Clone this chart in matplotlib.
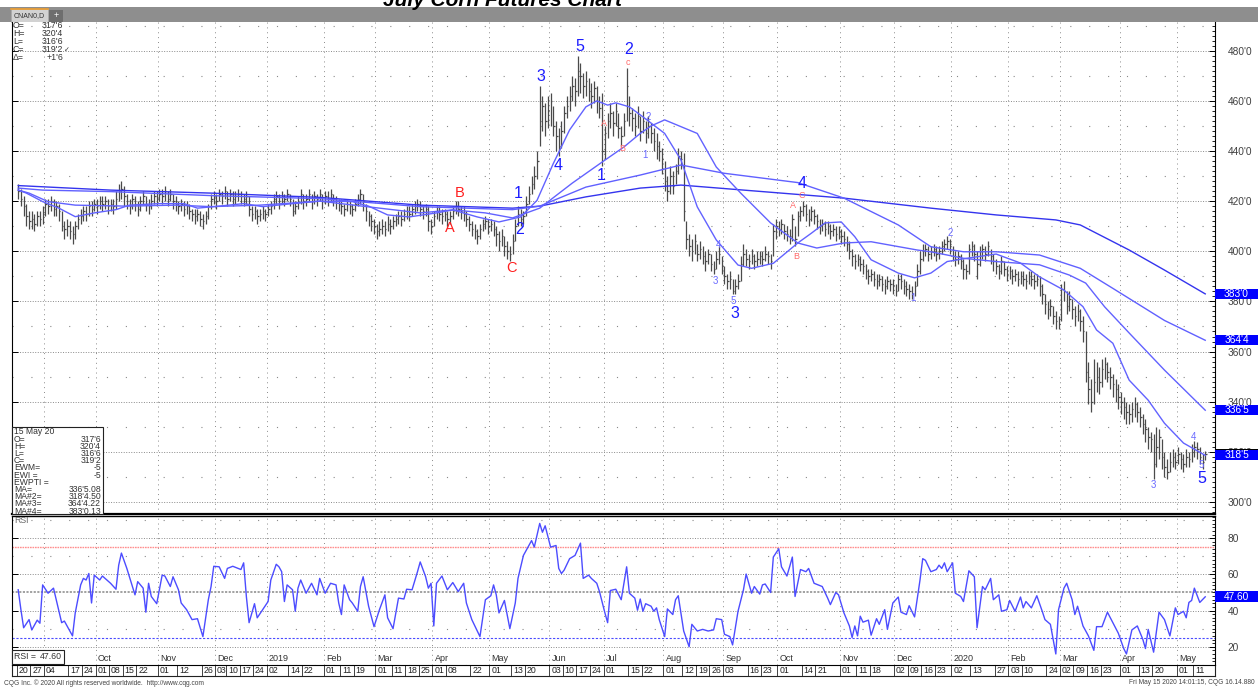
import numpy as np
import pandas as pd
import matplotlib
matplotlib.use("Agg")
import matplotlib.pyplot as plt
import matplotlib.transforms as mtransforms
from matplotlib.patches import Rectangle
from matplotlib.ticker import FixedLocator, MultipleLocator, FuncFormatter

plt.rcParams['font.family'] = ['Liberation Sans', 'DejaVu Sans']

# ---------------- data ----------------
holidays = ["2018-09-03", "2018-11-22", "2018-12-05", "2018-12-25", "2019-01-01", "2019-01-21",
            "2019-02-18", "2019-04-19", "2019-05-27", "2019-07-04", "2019-09-02", "2019-11-28",
            "2019-12-25", "2020-01-01", "2020-01-20", "2020-02-17", "2020-04-10"]
sessions = pd.bdate_range("2018-08-20", "2020-05-15", freq="C", holidays=holidays)

close = [
    424, 421, 418, 414, 412, 413, 411, 414, 413, 415,
    419, 418, 420, 417, 418, 416, 410, 409, 410, 408,
    407, 410, 413, 414, 416, 415, 418, 417, 419, 418,
    420, 419, 420, 418, 419, 418, 421, 424, 425, 422,
    420, 418, 421, 419, 417, 420, 422, 419, 418, 420,
    422, 421, 423, 422, 424, 421, 423, 420, 419, 418,
    419, 417, 418, 416, 415, 414, 415, 413, 412, 414,
    418, 421, 422, 420, 423, 422, 424, 421, 423, 421,
    422, 423, 422, 421, 422, 417, 415, 416, 414, 415,
    416, 415, 417, 418, 421, 422, 420, 422, 421, 423,
    421, 416, 418, 420, 423, 420, 421, 423, 420, 422,
    421, 423, 420, 422, 421, 423, 421, 420, 419, 418,
    417, 419, 418, 417, 419, 421, 423, 420, 416, 414,
    412, 410, 408, 409, 410, 409, 411, 410, 412, 413,
    414, 413, 415, 416, 415, 417, 418, 419, 417, 416,
    417, 412, 410, 414, 416, 415, 414, 415, 413, 414,
    416, 418, 417, 416, 415, 413, 411, 409, 408, 406,
    409, 411, 412, 410, 411, 409, 407, 404, 406, 402,
    400, 399, 404, 410, 415, 413, 414, 419, 423, 427,
    430, 436, 452, 458, 452, 456, 460, 450, 446, 442,
    448, 455, 458, 462, 466, 464, 472, 470, 466, 468,
    464, 462, 465, 460, 457, 440, 447, 452, 455, 451,
    456, 449, 446, 452, 466, 455, 453, 450, 454, 448,
    452, 447, 450, 447, 444, 442, 440, 437, 428, 424,
    430, 426, 432, 438, 437, 416, 405, 402, 400, 404,
    399, 401, 398, 396, 399, 395, 393, 397, 399, 394,
    390, 388, 389, 384, 386, 388, 395, 399, 397, 396,
    398, 396, 397, 398, 397, 399, 398, 396, 408, 410,
    409, 411, 408, 407, 406, 413, 405, 414, 416, 418,
    415, 413, 416, 414, 412, 410, 411, 409, 410, 408,
    409, 407, 408, 406, 405, 403, 400, 398, 396, 397,
    395, 394, 392, 390, 391, 389, 388, 389, 387, 386,
    388, 387, 386, 384, 389, 388, 386, 385, 384, 383,
    386, 392, 397, 400, 401, 399, 400, 401, 399, 400,
    402, 403, 404, 403, 398, 397, 398, 396, 393, 392,
    401, 402, 399, 395, 400, 401, 399, 402, 398, 396,
    394, 392, 396, 393, 391, 392, 390, 391, 389, 390,
    389, 388, 390, 389, 388, 389, 386, 383, 379, 377,
    378, 374, 372, 371, 385, 384, 378, 381, 377, 374,
    376, 372, 368, 352, 345, 340, 348, 350, 348, 353,
    355, 352, 350, 347, 345, 342, 340, 338, 336, 335,
    337, 339, 336, 334, 331, 329, 326, 325, 315, 322,
    326, 318, 314, 312, 316, 318, 316, 319, 317, 315,
    318, 317, 320, 322, 321, 318, 316, 319.25,
]
high = [
    427, 425, 422, 419, 416, 416, 415, 416, 416, 418,
    421, 421, 422, 421, 420, 419, 416, 412, 413, 412,
    410, 412, 415, 417, 418, 418, 420, 420, 421, 421,
    422, 422, 422, 421, 421, 421, 424, 427, 428, 426,
    423, 421, 423, 422, 420, 422, 424, 422, 421, 423,
    424, 424, 425, 425, 426, 424, 425, 423, 422, 420,
    421, 420, 420, 419, 417, 417, 417, 416, 415, 416,
    419, 423, 424, 423, 425, 424, 426, 424, 425, 424,
    424, 425, 424, 423, 424, 422, 418, 418, 417, 417,
    418, 417, 419, 420, 423, 424, 423, 424, 423, 425,
    423, 421, 420, 422, 425, 423, 423, 425, 423, 424,
    423, 425, 423, 424, 424, 425, 423, 422, 421, 421,
    419, 421, 420, 419, 421, 423, 425, 423, 419, 416,
    415, 413, 411, 412, 413, 412, 414, 413, 414, 415,
    416, 416, 417, 418, 418, 419, 420, 421, 420, 418,
    419, 418, 413, 416, 418, 418, 417, 417, 416, 416,
    418, 420, 420, 418, 418, 416, 414, 412, 411, 409,
    411, 413, 414, 413, 413, 412, 410, 408, 409, 406,
    404, 402, 407, 413, 418, 417, 416, 422, 426, 430,
    434, 440, 466, 462, 459, 462, 463, 458, 452, 449,
    452, 458, 462, 466, 470, 469, 478, 475, 471, 472,
    469, 467, 468, 466, 462, 463, 450, 455, 459, 456,
    459, 455, 450, 455, 473, 462, 457, 455, 458, 454,
    456, 452, 454, 451, 449, 447, 444, 441, 436, 430,
    434, 432, 435, 441, 440, 439, 412, 407, 405, 407,
    403, 404, 402, 400, 401, 399, 396, 400, 402, 398,
    394, 391, 392, 389, 389, 391, 398, 403, 401, 399,
    401, 399, 400, 400, 400, 402, 400, 399, 411, 413,
    412, 413, 411, 410, 409, 415, 410, 416, 418, 420,
    419, 417, 418, 417, 415, 413, 413, 412, 412, 411,
    411, 410, 410, 409, 408, 406, 404, 401, 399, 399,
    398, 397, 395, 393, 393, 392, 391, 391, 390, 389,
    390, 389, 389, 387, 391, 391, 389, 388, 387, 386,
    388, 395, 400, 403, 403, 402, 402, 403, 402, 402,
    404, 405, 406, 405, 402, 400, 400, 399, 397, 395,
    403, 404, 403, 400, 402, 403, 402, 404, 401, 399,
    397, 395, 398, 396, 394, 394, 393, 393, 392, 392,
    392, 391, 392, 392, 391, 391, 390, 387, 383, 380,
    381, 378, 376, 374, 387, 388, 384, 384, 381, 378,
    379, 377, 374, 368, 356, 349, 357, 356, 354, 357,
    358, 356, 354, 351, 349, 347, 344, 342, 340, 339,
    340, 342, 340, 338, 335, 333, 330, 328, 327, 330,
    329, 325, 320, 317, 320, 321, 320, 322, 320, 319,
    321, 320, 323, 324.5, 324, 322, 319, 320.5,
]
low = [
    421, 418, 414, 410, 409, 409, 408, 410, 410, 411,
    414, 415, 416, 414, 414, 412, 408, 405, 406, 405,
    403, 405, 409, 411, 412, 412, 414, 414, 416, 415,
    417, 416, 417, 415, 416, 415, 417, 420, 421, 418,
    417, 415, 417, 416, 414, 416, 419, 416, 415, 417,
    419, 418, 420, 419, 420, 418, 420, 417, 416, 415,
    416, 414, 415, 413, 412, 411, 412, 410, 409, 411,
    413, 417, 419, 417, 420, 419, 421, 418, 420, 418,
    419, 420, 419, 418, 419, 414, 412, 413, 411, 412,
    413, 412, 414, 415, 417, 419, 417, 419, 418, 420,
    418, 414, 415, 417, 419, 417, 418, 420, 417, 419,
    418, 420, 417, 419, 418, 420, 418, 417, 416, 415,
    414, 416, 415, 414, 416, 418, 419, 416, 412, 410,
    408, 407, 405, 406, 407, 406, 408, 407, 409, 410,
    411, 410, 412, 413, 412, 414, 415, 416, 414, 413,
    414, 408, 407, 410, 413, 412, 411, 412, 410, 411,
    413, 415, 414, 413, 412, 410, 408, 406, 405, 403,
    405, 408, 409, 407, 408, 406, 402, 400, 402, 398,
    397, 396, 399, 404, 410, 410, 411, 414, 419, 423,
    425, 429, 442, 448, 446, 449, 450, 446, 440, 438,
    441, 447, 453, 456, 460, 458, 462, 463, 461, 462,
    460, 457, 459, 455, 453, 434, 437, 445, 449, 446,
    450, 445, 442, 446, 452, 450, 448, 446, 449, 444,
    447, 443, 445, 443, 440, 437, 436, 431, 424, 420,
    423, 423, 427, 431, 433, 412, 401, 398, 396, 399,
    396, 397, 395, 392, 395, 392, 391, 393, 395, 391,
    387, 385, 385, 383, 383, 385, 388, 394, 394, 393,
    395, 393, 394, 395, 394, 396, 395, 393, 398, 405,
    406, 407, 405, 404, 403, 404, 402, 406, 412, 414,
    412, 410, 412, 411, 409, 407, 408, 406, 407, 405,
    406, 404, 405, 403, 402, 400, 397, 394, 393, 394,
    392, 391, 389, 387, 388, 386, 385, 386, 384, 383,
    385, 384, 383, 382, 384, 385, 383, 382, 381, 381,
    382, 386, 391, 396, 398, 396, 397, 398, 396, 397,
    399, 400, 401, 399, 396, 394, 395, 393, 389, 389,
    391, 398, 396, 389, 394, 397, 396, 398, 395, 392,
    391, 389, 391, 390, 388, 389, 387, 388, 386, 387,
    386, 385, 387, 386, 385, 386, 382, 379, 375, 373,
    374, 371, 369, 369, 372, 380, 375, 376, 373, 370,
    372, 368, 364, 348, 339, 336, 339, 344, 343, 346,
    349, 348, 345, 342, 340, 337, 335, 333, 331, 331,
    332, 334, 332, 330, 327, 324, 321, 320, 309, 314,
    317, 313, 310, 309, 312, 314, 313, 315, 313, 312,
    314, 314, 316, 318, 317, 315, 313, 316.75,
]

# moving averages: (session number, value)
ma_fast = [(0, 424.4), (3, 423.2), (9, 419.8), (15, 417.2), (21, 413.8), (28, 415.3), (36, 416.6),
           (41, 418.4), (52, 419.0), (61, 419.0), (66, 417.2), (72, 417.8), (83, 419.0), (90, 417.8),
           (101, 419.0), (111, 420.0), (123, 419.8), (129, 418.0), (136, 414.5), (144, 413.7),
           (154, 415.3), (160, 416.5), (169, 413.7), (177, 411.7), (185, 413.7), (191, 420.3),
           (197, 435.0), (203, 448.4), (209, 457.6), (213, 460.0), (217, 458.3), (220, 459.2),
           (225, 457.6), (230, 453.6), (238, 447.0), (244, 436.4), (250, 417.7), (257, 404.5),
           (265, 394.5), (270, 393.2), (278, 395.2), (287, 403.3), (292, 407.2), (297, 411.3),
           (303, 411.7), (308, 405.8), (314, 396.6), (324, 391.3), (330, 389.4), (336, 391.3),
           (342, 395.9), (348, 397.0), (360, 398.9), (369, 395.3), (376, 389.8), (385, 384.5),
           (392, 377.9), (397, 368.6), (403, 363.3), (409, 348.6), (416, 340.6), (422, 331.4),
           (429, 323.5), (437, 318.6)]
ma_mid = [(0, 424.4), (4, 423.2), (11, 419.8), (21, 418.4), (40, 418.0), (58, 418.4), (71, 417.8),
          (89, 418.4), (111, 420.0), (148, 415.3), (160, 416.5), (172, 415.3), (182, 413.3),
          (192, 417.2), (204, 427.2), (215, 435.6), (223, 441.6), (229, 447.0), (233, 450.0),
          (238, 452.4), (250, 447.0), (257, 433.6), (266, 423.2), (277, 411.3), (287, 403.3),
          (294, 401.3), (304, 403.3), (314, 403.8), (331, 400.5), (336, 399.8), (348, 397.2),
          (360, 395.9), (376, 394.6), (387, 390.5), (393, 387.3), (400, 377.8), (409, 367.4),
          (422, 352.6), (437, 336.6)]
ma_slow = [(0, 425.2), (9, 424.4), (34, 423.8), (71, 422.2), (111, 421.0), (148, 417.8), (182, 416.6),
           (192, 418.0), (209, 425.6), (229, 430.4), (244, 434.4), (260, 431.1), (287, 427.4),
           (304, 421.2), (324, 410.5), (336, 401.8), (348, 399.8), (360, 399.8), (376, 398.5),
           (391, 393.2), (403, 385.2), (422, 372.4), (437, 364.5)]
ma_slowest = [(0, 426.2), (34, 424.4), (71, 423.2), (111, 421.5), (148, 418.4), (182, 417.2),
              (192, 418.0), (209, 421.7), (229, 425.2), (244, 426.4), (274, 423.8), (304, 421.2),
              (336, 417.2), (360, 414.5), (382, 412.5), (391, 410.5), (409, 400.5), (422, 392.5),
              (437, 383.0)]

rsi_points = [
    (0, 51.5), (1, 40.5), (2, 30.5), (4, 35), (5, 29.3), (7, 34.7), (8, 33), (9, 54.2), (11, 49.6), (13, 52.4),
    (14, 46), (16, 33.3), (17, 34.2), (20, 26), (21, 38.7), (23, 54.2), (24, 57.8), (25, 56.9), (26, 60.5), (27, 44.2),
    (28, 59.6), (30, 56.9), (31, 59.1), (34, 55.1), (36, 51.8), (37, 65.1), (38, 71.8), (40, 63.3), (43, 48.7), (44, 56),
    (46, 52.4), (47, 39.1), (48, 55.1), (49, 47.8), (51, 43.8), (53, 59.6), (54, 59.1), (56, 53.3), (57, 58.7), (59, 51.5),
    (60, 44.2), (62, 40.5), (64, 35), (66, 35.5), (68, 25.6), (70, 46), (71, 53.3), (72, 64.5), (74, 64.2), (76, 57.8),
    (77, 63.3), (79, 64.5), (81, 63.3), (82, 62.7), (83, 66.4), (84, 47.8), (85, 33.3), (87, 43.8), (88, 36), (90, 40.5),
    (92, 45), (93, 56.9), (95, 65.6), (96, 64.2), (97, 61.5), (98, 45), (99, 54.2), (101, 51.5), (102, 39.6), (103, 52.4),
    (104, 56.9), (106, 49.6), (107, 52.4), (108, 55.1), (110, 48.7), (111, 57.8), (113, 49.6), (115, 55.1), (117, 54.2), (118, 44.2),
    (119, 37.8), (120, 54.2), (122, 46), (123, 44.2), (125, 39.6), (126, 53.3), (127, 58.7), (129, 42.4), (131, 31.1), (133, 40.5),
    (135, 48.7), (136, 36), (138, 30), (140, 46.9), (142, 46.4), (143, 51.8), (145, 51.5), (147, 61.5), (148, 66.9), (150, 58.7),
    (151, 52.4), (152, 55.1), (153, 31.5), (154, 55.1), (156, 59.1), (158, 51.5), (160, 55.5), (162, 50.5), (164, 55.1), (165, 44.2),
    (167, 35), (170, 25.6), (172, 46), (174, 48.2), (175, 54.2), (176, 48.7), (177, 38.7), (179, 45.6), (181, 30), (183, 44.2),
    (184, 57.8), (186, 70.5), (188, 76), (189, 78.7), (190, 75.1), (192, 88.2), (193, 83.3), (194, 86.9), (196, 75.1), (198, 76),
    (199, 63.3), (200, 60.5), (201, 62.4), (203, 68.7), (205, 70.5), (207, 77.3), (208, 57.8), (210, 59.6), (211, 57.8), (213, 55.1),
    (214, 50.5), (216, 38.7), (217, 33.3), (218, 51.1), (220, 51.8), (222, 46),
    (224, 64.2), (225, 49.6), (227, 46.9), (228, 40.2), (229, 46.4), (230, 39.6), (231, 43.8), (233, 42.4), (234, 39.6), (235, 41.5),
    (236, 35), (238, 25.6), (239, 40.9), (241, 37.8), (242, 46), (243, 48.2), (245, 28.7), (247, 20), (248, 32.4), (250, 28.7),
    (252, 29.6), (254, 28.7), (256, 29.3), (257, 35.5), (259, 35), (260, 26.9), (262, 25.6), (263, 21), (265, 39.6), (267, 51.5),
    (268, 60.2), (270, 49.6), (271, 53.3), (273, 49.1), (274, 54.2), (275, 54.7), (277, 50), (278, 69.6), (280, 74.2), (281, 64.2),
    (283, 59.1), (284, 64.2), (285, 69.6), (286, 47.8), (288, 62.7), (290, 61.5), (291, 63.3), (293, 55.1), (296, 53.3), (298, 46.9),
    (299, 43.3), (301, 50), (302, 48.7), (304, 38.7), (306, 31.5), (307, 25.1), (308, 31.5), (309, 26), (310, 36.9), (311, 33.6),
    (313, 34.7), (314, 26.4), (316, 35.5), (317, 32.4), (319, 40.5), (320, 29.6), (322, 44.2), (324, 47.5), (325, 39.1), (327, 37.8),
    (328, 42.7), (330, 36.5), (332, 56.9), (333, 68.7), (334, 67.8), (336, 61.5), (338, 62.7), (339, 65.1), (340, 63.3), (341, 66.4),
    (342, 61.5), (344, 66.4), (345, 49.6), (347, 47.8), (348, 45), (350, 62), (352, 58.7), (353, 30.5), (355, 53.3), (356, 51.5),
    (358, 57.8), (359, 46), (361, 48.7), (362, 39.6), (364, 40.5), (365, 45.6), (367, 39.6), (369, 47.5), (370, 41.5), (371, 45),
    (373, 41.5), (375, 48.2), (377, 39.6), (378, 35), (380, 32.4), (382, 16), (383, 40.5), (385, 52.4), (386, 55.1), (388, 46),
    (389, 37.8), (390, 42.4), (392, 31.5), (394, 26), (396, 18), (397, 31.1), (399, 31.1), (401, 39.1), (403, 33.3), (405, 27.5),
    (407, 19), (408, 16), (410, 29.3), (412, 31.5), (414, 24.2), (415, 19), (416, 29.6), (418, 17), (420, 39.1), (422, 35),
    (424, 26), (426, 41.5), (427, 37.8), (429, 39.6), (430, 36), (431, 44.5), (432, 45.6), (433, 52.4), (435, 44.5), (437, 47.6),
]

# Elliott-wave annotations: (text, session number, price, style)
ew_labels = [
    ("1", 184, 423.2, "big_blue"), ("2", 184.6, 408.5, "big_blue"), ("3", 192.6, 469.6, "big_blue"),
    ("4", 198.7, 434.4, "big_blue"), ("5", 206.7, 481.6, "big_blue"), ("1", 214.7, 430.4, "big_blue"),
    ("2", 224.9, 480.3, "big_blue"), ("3", 263.7, 375.2, "big_blue"), ("4", 288.5, 427.1, "big_blue"),
    ("5", 435.7, 309.4, "big_blue"),
    ("B", 162.5, 423.2, "big_red"), ("A", 158.9, 409.2, "big_red"), ("C", 181.6, 393.2, "big_red"),
    ("c", 224.5, 475.2, "small_red"), ("A", 215.7, 451.0, "small_red"), ("B", 222.4, 441.0, "small_red"),
    ("A", 285.4, 418.4, "small_red"), ("B", 286.3, 397.8, "small_red"), ("C", 288.5, 422.4, "small_red"),
    ("1", 230.8, 438.4, "small_blue"), ("2", 232.0, 453.7, "small_blue"), ("4", 257.8, 402.5, "small_blue"),
    ("3", 256.6, 388.0, "small_blue"), ("5", 263.3, 380.0, "small_blue"), ("1", 329.6, 381.2, "small_blue"),
    ("2", 343.1, 407.2, "small_blue"), ("3", 418.0, 306.8, "small_blue"), ("4", 432.6, 326.0, "small_blue"),
    ("5", 435.7, 314.7, "small_blue"),
]

price_levels = [300, 320, 340, 360, 380, 400, 420, 440, 460, 480]
rsi_levels = [20, 40, 60, 80]
ma_boxes = [("383'0", 383.0), ("364'4", 364.53), ("336'5", 336.64), ("318'5", 318.56)]
rsi_last = ("47.60", 47.6)

info_top = [("O=", "317'6"), ("H=", "320'4"), ("L=", "316'6"), ("C=", "319'2"), ("\u0394=", "+1'6")]
info_box = [("15 May 20", ""), ("O=", "317'6"), ("H=", "320'4"), ("L=", "316'6"), ("C=", "319'2"),
            ("EWM=", "-5"), ("EWI =", "-5"), ("EWPTI =", ""), ("MA=", "336'5.08"),
            ("MA#2=", "318'4.50"), ("MA#3=", "364'4.22"), ("MA#4=", "383'0.13")]

day_label_dates = [
    "2018-08-20", "2018-08-27", "2018-09-04", "2018-09-17", "2018-09-24", "2018-10-01", "2018-10-08",
    "2018-10-15", "2018-10-22", "2018-11-01", "2018-11-12", "2018-11-26", "2018-12-03", "2018-12-10",
    "2018-12-17", "2018-12-24", "2019-01-02", "2019-01-14", "2019-01-22", "2019-02-01", "2019-02-11",
    "2019-02-19", "2019-03-01", "2019-03-11", "2019-03-18", "2019-03-25", "2019-04-01", "2019-04-08",
    "2019-04-22", "2019-05-01", "2019-05-13", "2019-05-20", "2019-06-03", "2019-06-10", "2019-06-17",
    "2019-06-24", "2019-07-01", "2019-07-15", "2019-07-22", "2019-08-01", "2019-08-12", "2019-08-19",
    "2019-08-26", "2019-09-03", "2019-09-16", "2019-09-23", "2019-10-01", "2019-10-14", "2019-10-21",
    "2019-11-01", "2019-11-11", "2019-11-18", "2019-12-02", "2019-12-09", "2019-12-16", "2019-12-23",
    "2020-01-02", "2020-01-13", "2020-01-27", "2020-02-03", "2020-02-10", "2020-02-24", "2020-03-02",
    "2020-03-09", "2020-03-16", "2020-03-23", "2020-04-01", "2020-04-13", "2020-04-20", "2020-05-01",
    "2020-05-11"]

assert len(close) == len(high) == len(low) == len(sessions), (len(close), len(high), len(low), len(sessions))

# ---------------- layout ----------------
W, H = 1258, 687
fig = plt.figure(figsize=(W / 100, H / 100), dpi=100)
fig.patch.set_facecolor('white')


def fx(p):
    return p / W


def fy(p):
    return 1 - p / H


bg = fig.add_axes([0, 0, 1, 1], zorder=-5)
bg.set_xlim(0, W)
bg.set_ylim(H, 0)
bg.axis('off')
bg.add_patch(Rectangle((0, 6.5), W, 15.5, fc='#8e8e8e', ec='none'))
bg.add_patch(Rectangle((11, 8.5), 37, 13.5, fc='#d2d2d2', ec='#a8a8a8', lw=0.5))
bg.plot([11, 48], [8.6, 8.6], color='#f0a030', lw=1.2)
bg.text(29.5, 15.5, 'CNAN0,D', fontsize=5, color='#333333', ha='center', va='center')
bg.add_patch(Rectangle((49, 9.5), 14, 12, fc='#6e6e6e', ec='none'))
bg.text(56, 15.5, '+', fontsize=6.5, color='white', ha='center', va='center')

LPX, RPX = 12, 1215
ax = fig.add_axes([fx(LPX), fy(514), (RPX - LPX) / W, (514 - 22) / H])
ax2 = fig.add_axes([fx(LPX), fy(665), (RPX - LPX) / W, (665 - 516) / H])
XMIN, XMAX = -2.28, 440.6
ax.set_xlim(XMIN, XMAX)
ax.set_ylim(295.2, 491.45)
ax2.set_xlim(XMIN, XMAX)
ax2.set_ylim(9.9, 92.3)

grid_c = '#8a8a8a'
for v in range(300, 481, 20):
    ax.axhline(v, color=grid_c, lw=0.7, ls=(0, (1, 1.6)), zorder=1)
for v in range(290, 491, 20):
    ax.axhline(v, color=grid_c, lw=0.8, ls=(0, (1, 16)), zorder=1)

n = len(sessions)
month_idx = [i for i in range(1, n) if sessions[i].month != sessions[i - 1].month]
month_names = [str(sessions[i].year) if sessions[i].month == 1 else sessions[i].strftime('%b')
               for i in month_idx]
for k in month_idx:
    ax.axvline(k - 0.5, color=grid_c, lw=0.7, ls=(0, (1, 4)), zorder=1)
    ax2.axvline(k - 0.5, color=grid_c, lw=0.7, ls=(0, (1, 4)), zorder=1)

# price bars (high-low with close tick)
x = np.arange(n)
bar_c = '#4a4a4a'
ax.vlines(x, low, high, color=bar_c, lw=0.9, zorder=3)
ax.hlines(close, x, x + 0.55, color=bar_c, lw=0.9, zorder=3)

# moving averages
for pts, col in [(ma_slowest, '#3434ee'), (ma_slow, '#6060ff'), (ma_mid, '#6262ff'), (ma_fast, '#6262ff')]:
    d, v = zip(*pts)
    ax.plot(d, v, color=col, lw=1.0, zorder=4)

styles = {
    "big_blue": dict(color='#1c1cff', fontsize=11.5),
    "big_red": dict(color='#ff1e1e', fontsize=10.5),
    "small_red": dict(color='#ff6a6a', fontsize=6.5),
    "small_blue": dict(color='#6a6aff', fontsize=7),
}
for txt, d, p, st in ew_labels:
    ax.text(d, p, txt, ha='center', va='center', zorder=6, **styles[st])


# y axis (right labels)
def fmt_price(v, pos):
    return f"{int(round(v))}'0"


ax.yaxis.set_major_locator(FixedLocator(price_levels))
ax.yaxis.set_major_formatter(FuncFormatter(fmt_price))
ax.yaxis.set_minor_locator(MultipleLocator(2))
ax.tick_params(axis='y', which='major', direction='in', length=4, width=0.7, left=True, right=True,
               labelleft=False, labelright=True, labelsize=7.3, labelcolor='#404040', pad=9)
ax.tick_params(axis='y', which='minor', direction='in', length=2.2, width=0.6, left=False, right=True)
ax.tick_params(axis='x', which='both', bottom=False, top=False, labelbottom=False)
ax.spines['top'].set_visible(False)
ax.spines['left'].set_linewidth(0.8)
ax.spines['right'].set_linewidth(0.8)
ax.spines['bottom'].set_linewidth(1.6)

# right highlighted boxes
ytr = ax.get_yaxis_transform()
bw = (W - RPX) / (RPX - LPX)
ax.add_patch(Rectangle((1.0, close[-1] - 2.0), bw, 4.0, transform=ytr, fc='black', ec='none',
                       zorder=9, clip_on=False))
for lab, p in ma_boxes:
    ax.add_patch(Rectangle((1.0, p - 2.0), bw, 4.0, transform=ytr, fc='#0000ff', ec='none',
                           zorder=10, clip_on=False))
    ax.text(1.0 + bw / 2, p, lab, transform=ytr, color='white', fontsize=7.3, ha='center',
            va='center', zorder=11, clip_on=False)

# top-left quote info
for k, (lab, val) in enumerate(info_top):
    yy = 26 + 8 * k
    ax.text(fx(13), fy(yy), lab, transform=fig.transFigure, fontsize=6.3, color='#333333',
            ha='left', va='center', zorder=7)
    ax.text(fx(63), fy(yy), val, transform=fig.transFigure, fontsize=6.3, color='#333333',
            ha='right', va='center', zorder=7)
ax.text(fx(63.5), fy(50), "\u2713", transform=fig.transFigure, fontsize=5, color='#333333',
        ha='left', va='center', zorder=7, family=['DejaVu Sans'])

# bottom-left data box
ax.add_patch(Rectangle((fx(12), fy(514)), 91 / W, 87 / H, transform=fig.transFigure, fc='white',
                       ec='#222222', lw=0.8, zorder=8, clip_on=False))
for k, (lab, val) in enumerate(info_box):
    yy = 432 + 7.2 * k
    ax.text(fx(14), fy(yy), lab, transform=fig.transFigure, fontsize=6.2, color='#333333',
            ha='left', va='center', zorder=9)
    if val:
        ax.text(fx(101), fy(yy), val, transform=fig.transFigure, fontsize=6.2, color='#333333',
                ha='right', va='center', zorder=9)

# ---------------- RSI panel ----------------
for v in rsi_levels:
    ax2.axhline(v, color=grid_c, lw=0.7, ls=(0, (1, 1.6)), zorder=1)
for v in [10, 30, 70, 90]:
    ax2.axhline(v, color=grid_c, lw=0.8, ls=(0, (1, 16)), zorder=1)
ax2.axhline(50, color='#9a9a9a', lw=1.3, ls=(0, (1.2, 0.8)), zorder=1)
ax2.axhline(75, color='#ff8f8f', lw=1.0, ls=(0, (1.2, 0.6)), zorder=1)
ax2.axhline(25, color='#4a4aff', lw=0.8, ls=(0, (2, 1.5)), zorder=1)

rd, rv = zip(*rsi_points)
ax2.plot(rd, rv, color='#4c4cff', lw=1.0, zorder=4)

ax2.yaxis.set_major_locator(FixedLocator(rsi_levels))
ax2.yaxis.set_major_formatter(FuncFormatter(lambda v, p: f"{int(round(v))}"))
ax2.yaxis.set_minor_locator(MultipleLocator(2))
ax2.tick_params(axis='y', which='major', direction='in', length=4, width=0.7, left=True, right=True,
                labelleft=False, labelright=True, labelsize=7.3, labelcolor='#404040', pad=9)
ax2.tick_params(axis='y', which='minor', direction='in', length=2.2, width=0.6, left=False, right=True)
ax2.tick_params(axis='x', which='both', bottom=False, top=False, labelbottom=False)
for s in ['left', 'right', 'bottom']:
    ax2.spines[s].set_linewidth(0.8)
ax2.spines['top'].set_linewidth(1.0)

ax2.text(fx(14), fy(520.5), "RSI", transform=fig.transFigure, fontsize=6.3, color='#666666',
         ha='left', va='center', zorder=7)

rtr = ax2.get_yaxis_transform()
lab, val = rsi_last
ax2.add_patch(Rectangle((1.0, val - 3.0), bw, 6.0, transform=rtr, fc='#0000ff', ec='none',
                        zorder=10, clip_on=False))
ax2.text(1.0 + bw / 2, val, lab, transform=rtr, color='white', fontsize=7.3, ha='center',
         va='center', zorder=11, clip_on=False)

# month labels inside RSI panel (the first one sits under the RSI value box, as in the original)
dtr = mtransforms.blended_transform_factory(ax2.transData, ax2.transAxes)
box_right_idx = (64 - 18.2) / 2.716
for k, name in zip(month_idx, month_names):
    if k < box_right_idx:
        continue
    ax2.text(k + 0.3, 0.045, name, transform=dtr, fontsize=6.5, color='#333333', ha='left',
             va='center', zorder=6)

# RSI value box bottom-left
ax2.add_patch(Rectangle((fx(12), fy(663.5)), 52 / W, 13.5 / H, transform=fig.transFigure,
                        fc='white', ec='#222222', lw=0.8, zorder=8, clip_on=False))
ax2.text(fx(14), fy(656.8), "RSI =", transform=fig.transFigure, fontsize=6.3, color='#333333',
         ha='left', va='center', zorder=9)
ax2.text(fx(62), fy(656.8), rsi_last[0], transform=fig.transFigure, fontsize=6.3, color='#333333',
         ha='right', va='center', zorder=9)

# day-of-month row below the panels
row_h = 11 / 149
ax2.plot([0, 1], [-row_h, -row_h], transform=ax2.transAxes, color='#222222', lw=0.8, clip_on=False)
ax2.plot([0, 0], [0, -row_h], transform=ax2.transAxes, color='#222222', lw=0.8, clip_on=False)
ax2.plot([1, 1], [0, -row_h], transform=ax2.transAxes, color='#222222', lw=0.8, clip_on=False)
day_pos = sessions.get_indexer(pd.to_datetime(day_label_dates))
for ds, k in zip(day_label_dates, day_pos):
    if k < 0:
        continue
    ax2.plot([k - 0.5, k - 0.5], [0, -row_h], transform=dtr, color='#222222', lw=0.6, clip_on=False)
    ax2.text(k + 0.2, -row_h / 2, ds[-2:], transform=dtr, fontsize=6.3, color='#222222',
             ha='left', va='center', clip_on=False)

# footer and partial title
fig.text(fx(4), fy(683), "CQG Inc. \u00a9 2020 All rights reserved worldwide.  http://www.cqg.com",
         fontsize=4.8, color='#444444', ha='left', va='center')
fig.text(fx(1255), fy(683), "Fri May 15 2020 14:01:15, CQG 16.14.880", fontsize=4.8,
         color='#444444', ha='right', va='center')
fig.text(fx(383), fy(6), "July Corn Futures Chart", fontsize=15, fontweight='bold',
         fontstyle='italic', color='black', ha='left', va='baseline', zorder=20)

fig.savefig('out.png', dpi=100, facecolor='white')
